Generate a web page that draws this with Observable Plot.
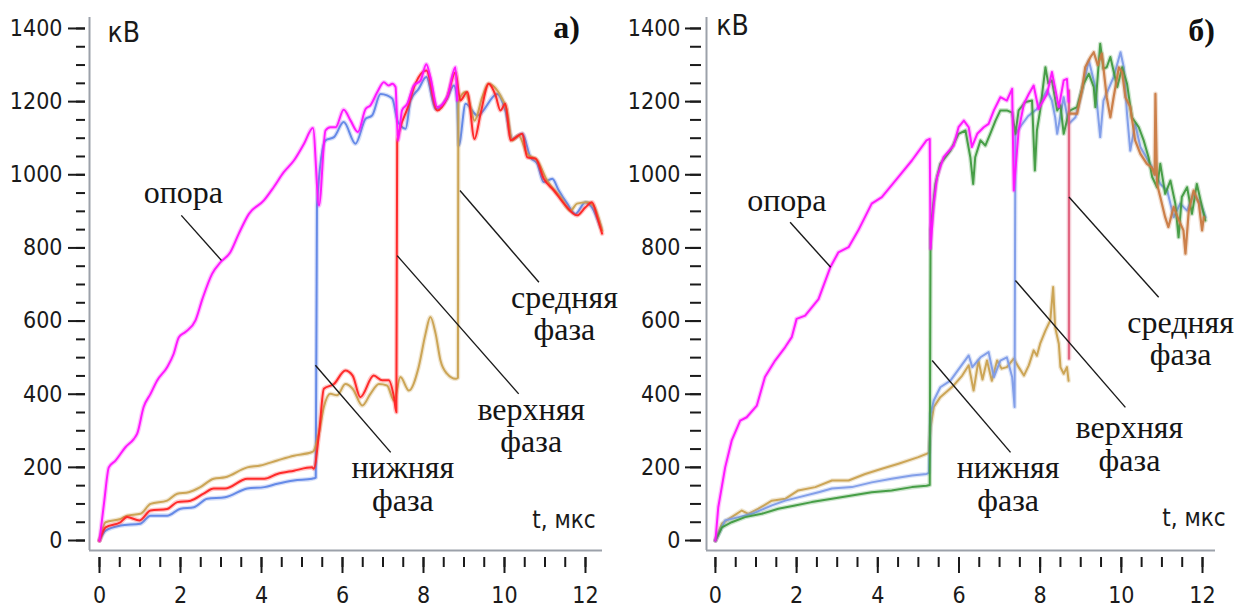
<!DOCTYPE html>
<html><head><meta charset="utf-8">
<script src="https://cdn.jsdelivr.net/npm/d3@7"></script>
<script src="https://cdn.jsdelivr.net/npm/@observablehq/plot@0.6"></script>
<style>
body{margin:0;background:#fff;width:1236px;height:610px;overflow:hidden;position:relative}
.panel{position:absolute;top:0}
</style></head><body>
<div id="pa" class="panel" style="left:0"></div>
<div id="pb" class="panel" style="left:618px"></div>
<script>
// ---- tick values ----
const yMajor = [0, 200, 400, 600, 800, 1000, 1200, 1400];
const yMinor = d3.range(0, 1401, 50);
const xMajor = [0, 2, 4, 6, 8, 10, 12];
const xMinor = d3.range(0, 12.01, 0.5);

// ---- panel а) series: [t (мкс), U (кВ)] ----
const aOpora = [[0,0],[0.12,110],[0.23,200],[0.4,219],[0.64,255],[0.85,278],[0.93,292],[1.09,365],[1.26,401],[1.42,437],[1.67,474],[1.83,510],[1.96,556],[2.12,570],[2.37,602],[2.54,660],[2.78,729],[2.99,761],[3.23,788],[3.44,839],[3.69,893],[4.06,930],[4.3,966],[4.55,1007],[4.8,1039],[5.05,1085],[5.27,1128],[5.42,916],[5.58,1121],[5.7,1130],[5.83,1130],[6.03,1178],[6.2,1148],[6.38,1117],[6.57,1180],[6.69,1190],[6.86,1226],[7.02,1253],[7.14,1244],[7.23,1249],[7.31,1240],[7.37,1094],[7.47,1176],[7.6,1194],[7.76,1244],[7.93,1258],[8.07,1302],[8.17,1267],[8.34,1185],[8.58,1212],[8.79,1294],[8.83,1203]];
const aLower = [[0,0],[0.15,27],[0.52,41],[1.01,46],[1.26,68],[1.67,68],[2.0,87],[2.33,91],[2.66,114],[3.1,118],[3.65,142],[4.07,146],[4.39,155],[4.8,164],[5.25,169],[5.34,172],[5.37,918],[5.58,1094],[5.79,1103],[6.03,1144],[6.32,1085],[6.57,1153],[6.73,1162],[6.94,1221],[7.1,1217],[7.23,1208],[7.37,1144],[7.56,1126],[7.68,1203],[7.88,1235],[8.07,1267],[8.3,1180],[8.58,1208],[8.75,1244],[8.83,1203],[8.87,1080],[9.04,1194],[9.33,1162],[9.82,1221],[10.02,1176],[10.19,1098],[10.44,1112],[10.64,1048],[10.81,1030],[10.97,980],[11.18,989],[11.34,957],[11.55,921],[11.75,893],[12.0,925],[12.16,911],[12.37,857]];
const aUpper = [[0,0],[0.15,36],[0.52,50],[0.68,64],[0.99,55],[1.26,82],[1.67,86],[1.92,105],[2.25,109],[2.57,128],[2.82,142],[3.1,142],[3.65,169],[4.07,169],[4.39,182],[4.8,191],[5.25,200],[5.29,196],[5.42,292],[5.54,415],[5.79,428],[6.07,465],[6.25,451],[6.44,392],[6.77,451],[6.98,438],[7.14,438],[7.27,392],[7.33,351],[7.35,1090],[7.43,1130],[7.6,1180],[7.8,1249],[8.07,1285],[8.34,1176],[8.58,1210],[8.79,1280],[8.91,1203],[9.08,1226],[9.26,1098],[9.41,1167],[9.61,1249],[9.78,1217],[9.9,1176],[10.02,1194],[10.15,1094],[10.44,1112],[10.56,1048],[10.77,1044],[10.97,989],[11.22,957],[11.47,921],[11.79,889],[12.0,911],[12.16,925],[12.29,884],[12.41,839]];
const aMiddle = [[0,0],[0.15,50],[0.52,59],[0.68,68],[1.01,73],[1.26,100],[1.67,109],[1.92,128],[2.2,132],[2.49,146],[2.82,169],[3.1,173],[3.65,200],[3.97,205],[4.39,219],[4.8,232],[5.25,242],[5.29,245],[5.42,296],[5.54,365],[5.7,401],[5.87,397],[6.07,428],[6.25,415],[6.49,369],[6.69,401],[6.9,428],[7.1,424],[7.27,383],[7.43,447],[7.64,410],[7.88,474],[8.05,565],[8.17,611],[8.3,565],[8.42,492],[8.58,456],[8.79,442],[8.85,445],[8.86,1180],[8.87,1203],[9.04,1226],[9.15,1190],[9.26,1148],[9.45,1212],[9.61,1249],[9.75,1240],[9.94,1208],[10.05,1180],[10.19,1094],[10.35,1107],[10.56,1057],[10.81,1039],[11.05,985],[11.38,939],[11.63,902],[11.79,921],[12.04,925],[12.2,915],[12.41,848]];

// ---- panel б) series ----
const bOpora = [[0,0],[0.07,91],[0.24,200],[0.4,273],[0.61,328],[0.77,337],[1.02,369],[1.22,447],[1.47,492],[1.72,529],[1.88,556],[2.0,606],[2.21,615],[2.54,660],[2.83,747],[3.03,788],[3.28,802],[3.52,848],[3.85,921],[4.1,939],[4.51,994],[4.84,1039],[5.2,1094],[5.28,1098],[5.3,798],[5.38,921],[5.46,994],[5.62,1048],[5.87,1080],[5.99,1130],[6.12,1148],[6.24,1130],[6.32,1076],[6.45,1112],[6.61,1130],[6.73,1139],[6.86,1176],[7.02,1212],[7.18,1203],[7.31,1235],[7.35,957],[7.47,1121],[7.6,1194],[7.72,1221],[7.84,1244],[7.96,1180],[8.17,1221],[8.29,1281],[8.46,1185],[8.58,1258],[8.66,1262],[8.7,1200]];
const bLower = [[0,0],[0.16,36],[0.4,50],[0.73,64],[1.14,73],[1.55,87],[1.96,96],[2.37,105],[2.87,114],[3.36,123],[3.85,132],[4.34,137],[4.84,146],[5.2,150],[5.28,152],[5.3,850],[5.42,975],[5.54,1030],[5.79,1066],[5.99,1112],[6.16,1121],[6.28,1048],[6.35,975],[6.4,1048],[6.53,1094],[6.65,1080],[6.77,1112],[6.9,1148],[7.02,1176],[7.18,1176],[7.31,1170],[7.39,1112],[7.47,1176],[7.64,1199],[7.8,1203],[7.87,1012],[7.92,1121],[8.0,1176],[8.13,1294],[8.2,1250],[8.29,1258],[8.42,1176],[8.5,1190],[8.58,1112],[8.7,1167],[8.74,1176],[8.91,1185],[9.07,1249],[9.2,1276],[9.32,1240],[9.36,1185],[9.48,1358],[9.56,1290],[9.64,1294],[9.73,1322],[9.9,1240],[10.02,1294],[10.14,1249],[10.26,1157],[10.43,1130],[10.55,1094],[10.67,1048],[10.76,994],[10.88,966],[10.96,1030],[11.08,948],[11.21,984],[11.33,921],[11.41,829],[11.49,939],[11.62,966],[11.74,893],[11.86,975],[11.99,911],[12.07,875]];
const bUpper = [[0,0],[0.24,55],[0.57,64],[0.9,73],[1.39,96],[1.72,109],[2.04,118],[2.54,132],[2.87,142],[3.36,146],[3.85,159],[4.34,169],[4.84,178],[5.2,182],[5.26,185],[5.3,346],[5.38,383],[5.54,419],[5.79,437],[6.03,474],[6.24,506],[6.33,474],[6.53,501],[6.73,515],[6.86,447],[7.02,492],[7.18,501],[7.31,447],[7.37,365],[7.39,1110],[7.5,1130],[7.7,1160],[7.92,1180],[8.17,1231],[8.29,1203],[8.37,1157],[8.42,1112],[8.58,1212],[8.7,1139],[8.87,1157],[9.03,1231],[9.2,1312],[9.36,1240],[9.48,1103],[9.56,1203],[9.81,1267],[9.98,1335],[10.06,1294],[10.14,1167],[10.22,1066],[10.34,1139],[10.47,1076],[10.8,1012],[10.96,975],[11.13,957],[11.29,884],[11.45,921],[11.62,902],[11.78,948],[11.95,921],[12.07,884]];
const bMiddle = [[0,0],[0.16,46],[0.4,64],[0.65,82],[0.81,73],[1.06,87],[1.39,109],[1.72,114],[2.04,137],[2.46,146],[2.87,164],[3.28,164],[3.69,182],[4.1,196],[4.51,210],[5.0,228],[5.2,237],[5.26,240],[5.3,310],[5.38,365],[5.54,392],[5.87,424],[6.08,451],[6.24,479],[6.36,410],[6.48,492],[6.58,440],[6.69,492],[6.81,437],[6.94,492],[7.05,470],[7.18,474],[7.35,497],[7.47,474],[7.6,451],[7.72,479],[7.84,520],[7.92,505],[8.0,538],[8.13,574],[8.25,602],[8.32,693],[8.37,583],[8.46,538],[8.5,474],[8.58,456],[8.66,474],[8.7,437]];
const bMiddleJump = [[8.71,497],[8.71,1230]];
const bMiddleAfter = [[8.72,1167],[8.91,1167],[9.03,1231],[9.11,1294],[9.24,1322],[9.32,1335],[9.42,1300],[9.52,1331],[9.64,1212],[9.73,1157],[9.81,1212],[9.94,1294],[10.02,1280],[10.1,1212],[10.22,1185],[10.34,1094],[10.47,1057],[10.63,1030],[10.75,1020],[10.82,1000],[10.84,1221],[10.88,975],[10.96,939],[11.08,884],[11.16,857],[11.29,912],[11.4,880],[11.53,848],[11.58,784],[11.66,900],[11.78,957],[11.91,921],[11.99,848],[12.03,884]];

// ---- annotations ----
const aLeaders = [[2.02,889,3.01,766],[5.33,479,7.19,241],[7.35,779,10.35,401],[8.9,957,10.85,706]];
const aLabels = [["опора",2.07,924],["нижняя\nфаза",7.49,82],["верхняя\nфаза",10.66,241],["средняя\nфаза",11.48,547]];
const bLeaders = [[1.84,870,2.84,747],[5.34,492,7.27,241],[7.39,711,10.1,364],[8.71,939,10.92,665]];
const bLabels = [["опора",1.76,902],["нижняя\nфаза",7.21,82],["верхняя\nфаза",10.2,191],["средняя\nфаза",11.46,479]];

const SANS = "'DejaVu Sans Condensed', 'DejaVu Sans', sans-serif";
const SERIF = "'Liberation Serif', 'DejaVu Serif', serif";

function line(data, color, w, curve) {
  return [
    Plot.line(data, {x: d => d[0], y: d => d[1], curve, stroke: color, strokeWidth: w + 2.6, strokeOpacity: 0.25}),
    Plot.line(data, {x: d => d[0], y: d => d[1], curve, stroke: color, strokeWidth: w, strokeOpacity: 0.95})
  ];
}

function panel(o) {
  const yDomain = [-27.3, 1430];
  return Plot.plot({
    width: 618, height: 610,
    marginLeft: o.ml, marginRight: o.mr, marginTop: 17, marginBottom: 60,
    x: {domain: o.xDomain},
    y: {domain: yDomain},
    style: {fontFamily: SANS, fontSize: "23px", color: "#1a1a1a", background: "#fff", overflow: "visible"},
    marks: [
      Plot.ruleX([o.xDomain[0]], {stroke: "#9ca1aa", strokeWidth: 2}),
      Plot.ruleY([yDomain[0]], {stroke: "#9ca1aa", strokeWidth: 2}),
      Plot.axisY({ticks: yMinor, tickSize: o.minorY, dx: -o.gap, tickFormat: () => "", strokeWidth: 2, color: "#1a1a1a"}),
      Plot.axisY({ticks: yMajor, tickSize: o.majorY, dx: -o.gap, tickPadding: o.padY, tickFormat: d => String(d), strokeWidth: 2, color: "#1a1a1a", fontSize: 23}),
      Plot.axisX({ticks: xMinor, tickSize: 10, dy: 7, tickFormat: () => "", strokeWidth: 2, color: "#1a1a1a"}),
      Plot.axisX({ticks: xMajor, tickSize: 16, dy: 7, tickPadding: 13, tickFormat: d => String(d), strokeWidth: 2, color: "#1a1a1a", fontSize: 23}),
      ...o.series.flatMap(s => line(s[0], s[1], s[2], o.curve)),
      Plot.link(o.leaders, {x1: d => d[0], y1: d => d[1], x2: d => d[2], y2: d => d[3], stroke: "#1a1a1a", strokeWidth: 1.4}),
      Plot.text(o.labels, {x: d => d[1], y: d => d[2], text: d => d[0], fontFamily: SERIF, fontSize: 32, lineHeight: 1.02, lineAnchor: "bottom", textAnchor: "middle", fill: "#151515"}),
      Plot.text([o.tag], {x: d => d[1], y: d => d[2], text: d => d[0], fontFamily: SERIF, fontSize: 32, fontWeight: "bold", lineAnchor: "bottom", textAnchor: "middle", fill: "#111"}),
      Plot.text([o.unit], {x: d => d[1], y: d => d[2], text: d => d[0], fontFamily: SANS, fontSize: 28, lineAnchor: "bottom", textAnchor: "start", fill: "#1a1a1a"}),
      Plot.text([o.xlab], {x: d => d[1], y: d => d[2], text: d => d[0], fontFamily: SANS, fontSize: 24, lineAnchor: "bottom", textAnchor: "end", fill: "#1a1a1a"})
    ]
  });
}

document.getElementById("pa").append(panel({
  xDomain: [-0.247, 12.42], ml: 89, mr: 16, gap: 4, majorY: 17, minorY: 9, padY: 6, curve: "monotone-x",
  series: [[aLower, "#5f85e6", 2], [aMiddle, "#c9a14f", 2], [aUpper, "#ff2222", 2], [aOpora, "#ff10ff", 2]],
  leaders: aLeaders, labels: aLabels,
  tag: ["а)", 11.53, 1373], unit: ["кВ", 0.2, 1362], xlab: ["t, мкс", 12.25, 33]
}));
document.getElementById("pb").append(panel({
  xDomain: [-0.22, 12.32], ml: 88, mr: 21, gap: 5, majorY: 16, minorY: 11, padY: 5, curve: "linear",
  series: [[bMiddle, "#c9a14f", 2], [bUpper, "#7d9be8", 2], [bLower, "#3f9a3f", 2], [bMiddleJump, "#e0607c", 2.2], [bMiddleAfter, "#c97a42", 2.2], [bOpora, "#ff10ff", 2]],
  leaders: bLeaders, labels: bLabels,
  tag: ["б)", 11.98, 1367], unit: ["кВ", 0.02, 1381], xlab: ["t, мкс", 12.57, 41]
}));
</script>
</body></html>
